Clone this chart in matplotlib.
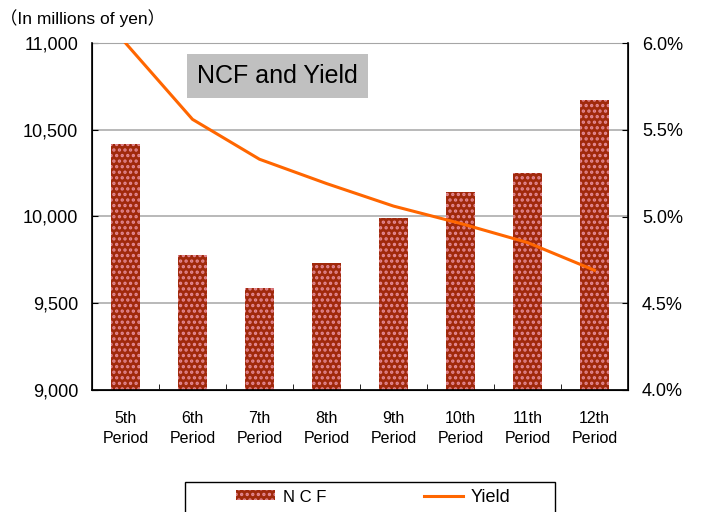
import numpy as np
import matplotlib.pyplot as plt
from matplotlib.patches import Patch, Rectangle
from matplotlib.lines import Line2D

plt.rcParams['font.family'] = ['Liberation Sans', 'Noto Sans CJK JP', 'DejaVu Sans']
plt.rcParams['hatch.linewidth'] = 1.6

# Adatok
periods = ['5th\nPeriod', '6th\nPeriod', '7th\nPeriod', '8th\nPeriod',
           '9th\nPeriod', '10th\nPeriod', '11th\nPeriod', '12th\nPeriod']
ncf = [10420, 9780, 9590, 9730, 9990, 10140, 10250, 10670]
yield_pct = [6.00, 5.56, 5.33, 5.19, 5.06, 4.96, 4.85, 4.69]

bar_face = '#a0290b'
bar_dots = '#e58a96'
line_color = '#ff6600'

fig = plt.figure(figsize=(7.04, 5.12), dpi=100)
ax = fig.add_axes([92 / 704, 1 - 390 / 512, 536 / 704, 347 / 512])
x = np.arange(len(periods))

# Oszlopok (NCF)
ax.bar(x, ncf, width=0.43, color=bar_face, edgecolor=bar_dots, linewidth=0,
       hatch='...', zorder=2)
ax.set_ylim(9000, 11000)
ax.set_xlim(-0.5, len(periods) - 0.5)
ax.set_yticks(np.arange(9000, 11001, 500))
ax.set_yticklabels([f'{v:,}' for v in range(9000, 11001, 500)], fontsize=13)
ax.yaxis.grid(True, color='#a6a6a6', linewidth=1.1, zorder=0)
ax.set_axisbelow(True)
ax.set_xticks(x)
ax.set_xticklabels(periods, fontsize=11.5, linespacing=1.45)
ax.set_xticks(np.arange(-0.5, len(periods) - 0.4, 1), minor=True)
ax.tick_params(axis='x', which='major', length=0, pad=15)
ax.tick_params(axis='x', which='minor', direction='in', length=4, color='black')
ax.tick_params(axis='y', direction='in', length=4, pad=10)
ax.spines['top'].set_color('#a6a6a6')
for s in ['left', 'bottom']:
    ax.spines[s].set_linewidth(1.2)

# Vonal (hozam)
ax2 = ax.twinx()
ax2.plot(x, yield_pct, color=line_color, linewidth=2.2, zorder=3)
ax2.set_ylim(4.0, 6.0)
ax2.set_yticks(np.arange(4.0, 6.01, 0.5))
ax2.set_yticklabels([f'{v:.1f}%' for v in np.arange(4.0, 6.01, 0.5)], fontsize=13)
ax2.tick_params(axis='y', direction='in', length=4, pad=10)
ax2.spines['top'].set_visible(False)
ax2.spines['right'].set_linewidth(1.2)

# Feliratok
fig.text(0.0, 1 - 18 / 512, '（In millions of yen）', fontsize=12.5,
         ha='left', va='center')
ax.text(0.196, 0.905, 'NCF and Yield', transform=ax.transAxes, fontsize=18,
        ha='left', va='center',
        bbox=dict(facecolor='#c0c0c0', edgecolor='none', pad=7))

# Jelmagyarázat keret
fig.patches.append(Rectangle((185 / 704, -0.02), 370 / 704, 0.02 + 30 / 512,
                             transform=fig.transFigure, facecolor='white',
                             edgecolor='black', linewidth=1.0))

handles = [Patch(facecolor=bar_face, edgecolor=bar_dots, linewidth=0, hatch='...'),
           Line2D([0], [0], color=line_color, linewidth=2.2)]
leg = fig.legend(handles, ['N C F', 'Yield'], loc='center', ncol=2,
                 bbox_to_anchor=(373 / 704, 1 - 497 / 512),
                 fontsize=13, frameon=False, borderpad=0,
                 handlelength=2.2, handleheight=0.5, handletextpad=0.4,
                 columnspacing=5.4)
leg.get_texts()[0].set_fontsize(12)

fig.savefig('out.png', dpi=100)
